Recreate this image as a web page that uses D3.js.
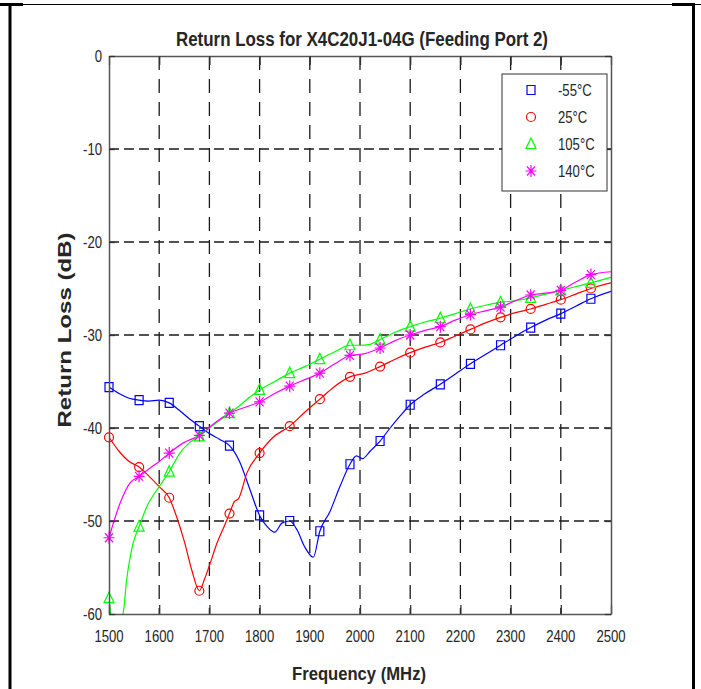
<!DOCTYPE html>
<html>
<head>
<meta charset="utf-8">
<script src="https://cdn.jsdelivr.net/npm/d3@7"></script>
<style>
  body { margin: 0; background: #fff; }
  svg text { font-family: "Liberation Sans", Arial, sans-serif; fill: #262626; }
</style>
</head>
<body>
<div id="chart"></div>
<script>
// axis ticks
const freqTicks = [1500, 1600, 1700, 1800, 1900, 2000, 2100, 2200, 2300, 2400, 2500];
const lossTicks = [0, -10, -20, -30, -40, -50, -60];
// markers are drawn every 60 MHz
const markerFreqs = [1500, 1560, 1620, 1680, 1740, 1800, 1860, 1920, 1980, 2040, 2100, 2160, 2220, 2280, 2340, 2400, 2460];

// [MHz, dB]
const lossM55 = [[1500,-35.6],[1520,-36.3],[1540,-36.8],[1560,-37.0],[1580,-37.1],[1600,-37.0],[1620,-37.3],[1640,-38.1],[1660,-39.0],[1680,-39.8],[1700,-40.6],[1720,-41.2],[1740,-41.9],[1750,-42.6],[1760,-43.6],[1780,-46.5],[1800,-49.4],[1815,-50.6],[1830,-51.2],[1845,-50.2],[1860,-50.0],[1875,-51.0],[1890,-52.8],[1907,-53.9],[1920,-51.1],[1940,-49.0],[1960,-46.3],[1980,-43.9],[1993,-43.0],[2005,-43.3],[2020,-42.5],[2040,-41.4],[2060,-40.0],[2080,-38.7],[2100,-37.5],[2130,-36.3],[2160,-35.3],[2190,-34.2],[2220,-33.1],[2250,-32.1],[2280,-31.1],[2310,-30.1],[2340,-29.2],[2370,-28.4],[2400,-27.7],[2430,-26.9],[2460,-26.1],[2500,-25.3]];
const loss25 = [[1500,-41.0],[1520,-42.5],[1540,-43.6],[1560,-44.2],[1580,-45.2],[1600,-46.3],[1620,-47.5],[1635,-49.6],[1650,-52.2],[1665,-55.3],[1680,-57.5],[1690,-56.3],[1700,-54.8],[1715,-52.4],[1730,-50.5],[1740,-49.2],[1750,-47.9],[1758,-47.6],[1775,-44.8],[1800,-42.7],[1827,-41.0],[1860,-39.8],[1890,-38.3],[1920,-36.9],[1950,-35.5],[1980,-34.5],[2010,-34.1],[2040,-33.4],[2070,-32.6],[2100,-31.9],[2130,-31.3],[2160,-30.8],[2190,-30.1],[2220,-29.4],[2250,-28.7],[2280,-28.1],[2310,-27.6],[2340,-27.2],[2370,-26.7],[2400,-26.2],[2430,-25.6],[2460,-25.0],[2500,-24.4]];
const loss105 = [[1500,-58.3],[1505,-60.5],[1515,-61.5],[1528,-60.0],[1535,-56.4],[1548,-52.4],[1560,-50.6],[1575,-48.5],[1600,-46.3],[1620,-44.7],[1640,-42.8],[1660,-41.6],[1680,-40.9],[1700,-40.0],[1720,-39.2],[1740,-38.4],[1760,-37.6],[1780,-36.7],[1800,-35.9],[1830,-35.0],[1860,-34.1],[1890,-33.4],[1920,-32.6],[1950,-31.8],[1980,-31.1],[2000,-31.1],[2020,-31.0],[2040,-30.5],[2070,-29.7],[2100,-29.1],[2130,-28.6],[2160,-28.2],[2190,-27.7],[2220,-27.2],[2250,-26.8],[2280,-26.5],[2310,-26.3],[2340,-26.0],[2370,-25.6],[2400,-25.2],[2430,-24.8],[2460,-24.4],[2500,-23.8]];
const loss140 = [[1500,-51.8],[1510,-50.0],[1522,-48.1],[1542,-45.9],[1560,-45.2],[1582,-44.3],[1600,-43.6],[1620,-42.7],[1648,-41.6],[1680,-40.8],[1710,-39.5],[1740,-38.4],[1770,-37.8],[1800,-37.2],[1830,-36.3],[1860,-35.5],[1890,-34.8],[1920,-34.1],[1950,-33.1],[1980,-32.2],[2010,-32.0],[2040,-31.4],[2070,-30.6],[2100,-30.0],[2130,-29.5],[2160,-29.1],[2190,-28.4],[2220,-27.8],[2250,-27.4],[2280,-27.0],[2310,-26.3],[2340,-25.7],[2370,-25.5],[2400,-25.2],[2430,-24.3],[2460,-23.5],[2500,-23.2]];

const seriesNames = ["-55°C", "25°C", "105°C", "140°C"];
const seriesColors = ["#0000ff", "#ff0000", "#00ff00", "#ff00ff"];
const seriesSymbols = ["square", "circle", "triangle", "star"];

// marker shapes (figure is stretched a bit vertically)
function markerPath(type)
{
    const p = d3.path();
    if (type === "square") {
        p.rect(-4, -4.5, 8, 9);
    } else if (type === "circle") {
        p.ellipse ? p.ellipse(0, 0, 4.5, 5.5, 0, 0, 2 * Math.PI)
                  : (p.moveTo(4.5, 0), p.arc(0, 0, 4.5, 0, 2 * Math.PI));
    } else if (type === "triangle") {
        p.moveTo(0, -6); p.lineTo(5, 4.5); p.lineTo(-5, 4.5); p.closePath();
    } else {
        p.moveTo(-5.5, 0); p.lineTo(5.5, 0);
        p.moveTo(0, -6); p.lineTo(0, 6);
        p.moveTo(-4, -4.5); p.lineTo(4, 4.5);
        p.moveTo(-4, 4.5); p.lineTo(4, -4.5);
    }
    return p.toString();
}

class LossChart {
    margin = { top: 56, right: 90, bottom: 75, left: 109 };

    constructor(selector, series)
    {
        this.selector = selector;
        this.series = series;
        this.totalW = 701;
        this.totalH = 689;
    }

    initialize()
    {
        this.width = this.totalW - this.margin.left - this.margin.right;
        this.height = this.totalH - this.margin.top - this.margin.bottom;

        this.root = d3.select(this.selector).append("svg")
            .attr("width", this.totalW)
            .attr("height", this.totalH);

        // table border round the figure
        const frame = this.root.append("g").attr("stroke", "#000");
        frame.append("line").attr("x1", 0).attr("x2", 701).attr("y1", 4.5).attr("y2", 4.5).attr("stroke-width", 1.2);
        frame.append("line").attr("x1", 0).attr("x2", 23).attr("y1", 4.5).attr("y2", 4.5).attr("stroke-width", 3);
        frame.append("line").attr("x1", 672).attr("x2", 695).attr("y1", 4.5).attr("y2", 4.5).attr("stroke-width", 3);
        frame.append("line").attr("x1", 10).attr("x2", 10).attr("y1", 3).attr("y2", 689).attr("stroke-width", 3);
        frame.append("line").attr("x1", 693.5).attr("x2", 693.5).attr("y1", 3).attr("y2", 689).attr("stroke-width", 3);

        this.svg = this.root.append("g")
            .attr("transform", `translate(${this.margin.left},${this.margin.top})`);

        this.x = d3.scaleLinear().domain([1500, 2500]).range([0, this.width]);
        this.y = d3.scaleLinear().domain([-60, 0]).range([this.height, 0]);

        this.svg.append("clipPath").attr("id", "plot-clip")
            .append("rect").attr("width", this.width).attr("height", this.height);
    }

    update()
    {
        const x = this.x, y = this.y, w = this.width, h = this.height;

        // dashed grid
        const grid = this.svg.append("g").attr("stroke", "#1a1a1a").attr("stroke-width", 1.3);
        grid.selectAll(".vgrid").data(freqTicks.slice(1, -1)).join("line")
            .attr("class", "vgrid")
            .attr("x1", d => x(d)).attr("x2", d => x(d))
            .attr("y1", 0).attr("y2", h)
            .attr("stroke-dasharray", "14,9");
        grid.selectAll(".hgrid").data(lossTicks.slice(1, -1)).join("line")
            .attr("class", "hgrid")
            .attr("x1", 0).attr("x2", w)
            .attr("y1", d => y(d)).attr("y2", d => y(d))
            .attr("stroke-dasharray", "10,5");

        // curves
        const line = d3.line().x(d => x(d[0])).y(d => y(d[1])).curve(d3.curveMonotoneX);
        const plot = this.svg.append("g").attr("clip-path", "url(#plot-clip)");
        this.series.forEach(s => {
            plot.append("path").datum(s.data)
                .attr("fill", "none")
                .attr("stroke", s.color)
                .attr("stroke-width", 1.2)
                .attr("d", line);
        });

        // markers
        this.series.forEach(s => {
            const pts = s.data.filter(d => markerFreqs.includes(d[0]));
            this.svg.append("g").selectAll("path").data(pts).join("path")
                .attr("transform", d => `translate(${x(d[0])},${y(d[1])})`)
                .attr("d", markerPath(s.symbol))
                .attr("fill", "none")
                .attr("stroke", s.color)
                .attr("stroke-width", 1.2);
        });

        // axes box with inward ticks
        const axisColor = "#555";
        const xAxis = d3.axisBottom(x).tickValues(freqTicks).tickSizeInner(-9).tickSizeOuter(0).tickFormat("");
        const xTop = d3.axisTop(x).tickValues(freqTicks).tickSizeInner(-9).tickSizeOuter(0).tickFormat("");
        const yAxis = d3.axisLeft(y).tickValues(lossTicks).tickSizeInner(-6).tickSizeOuter(0).tickFormat("");
        const yRight = d3.axisRight(y).tickValues(lossTicks).tickSizeInner(-6).tickSizeOuter(0).tickFormat("");
        this.svg.append("g").attr("transform", `translate(0,${h})`).call(xAxis);
        this.svg.append("g").call(xTop);
        this.svg.append("g").call(yAxis);
        this.svg.append("g").attr("transform", `translate(${w},0)`).call(yRight);
        this.svg.selectAll(".domain").attr("stroke", axisColor).attr("stroke-width", 1.5);
        this.svg.selectAll(".tick line").attr("stroke", "#333").attr("stroke-width", 1.3);

        // tick labels, narrow like the source
        this.svg.append("g").selectAll("text").data(freqTicks).join("text")
            .attr("transform", d => `translate(${x(d)},${h + 28}) scale(0.82,1)`)
            .attr("text-anchor", "middle")
            .style("font-size", "16px")
            .text(d => d);
        this.svg.append("g").selectAll("text").data(lossTicks).join("text")
            .attr("transform", d => `translate(-7,${y(d) + 6}) scale(0.82,1)`)
            .attr("text-anchor", "end")
            .style("font-size", "16px")
            .text(d => d);

        // titles
        this.root.append("text")
            .attr("x", 362).attr("y", 46)
            .attr("text-anchor", "middle")
            .attr("textLength", 372).attr("lengthAdjust", "spacingAndGlyphs")
            .style("font-size", "20px").style("font-weight", "bold")
            .text("Return Loss for X4C20J1-04G (Feeding Port 2)");
        this.root.append("text")
            .attr("x", 359).attr("y", 680)
            .attr("text-anchor", "middle")
            .attr("textLength", 134).attr("lengthAdjust", "spacingAndGlyphs")
            .style("font-size", "19px").style("font-weight", "bold")
            .text("Frequency (MHz)");
        this.root.append("text")
            .attr("transform", "translate(71,330) rotate(-90)")
            .attr("text-anchor", "middle")
            .attr("textLength", 195).attr("lengthAdjust", "spacingAndGlyphs")
            .style("font-size", "19px").style("font-weight", "bold")
            .text("Return Loss (dB)");

        // legend
        const lg = this.root.append("g").attr("transform", "translate(502,74)");
        lg.append("rect").attr("width", 105).attr("height", 117)
            .attr("fill", "#fff").attr("stroke", "#333").attr("stroke-width", 1);
        const rows = lg.selectAll(".entry").data(this.series).join("g")
            .attr("class", "entry")
            .attr("transform", (d, i) => `translate(0,${16 + i * 27})`);
        rows.append("path")
            .attr("transform", "translate(29,0)")
            .attr("d", d => markerPath(d.symbol))
            .attr("fill", "none").attr("stroke", d => d.color).attr("stroke-width", 1.2);
        rows.append("text")
            .attr("transform", "translate(56,6) scale(0.82,1)")
            .style("font-size", "16px")
            .text(d => d.name);
    }
}

const series = [lossM55, loss25, loss105, loss140].map((data, i) => ({
    name: seriesNames[i], color: seriesColors[i], symbol: seriesSymbols[i], data: data
}));

const chart = new LossChart("#chart", series);
chart.initialize();
chart.update();
</script>
</body>
</html>
